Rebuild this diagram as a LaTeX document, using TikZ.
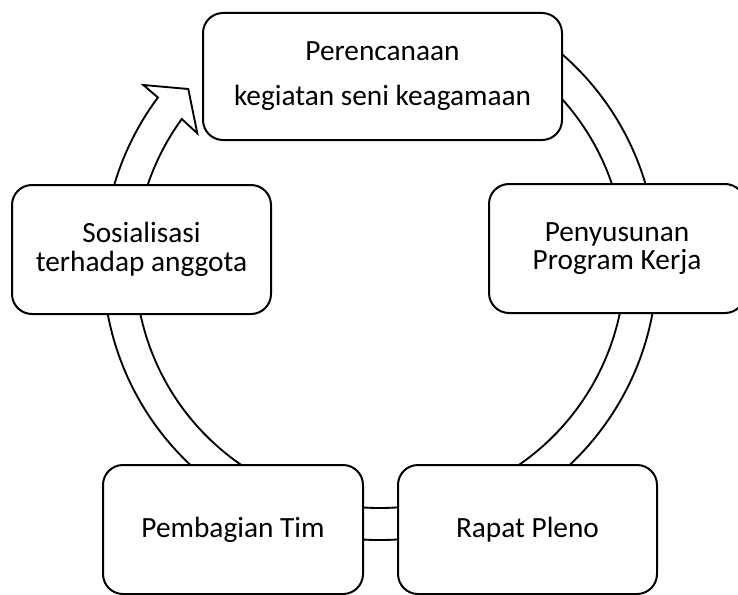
\documentclass[tikz,border=0pt]{standalone}
\usepackage{fontspec}
\setmainfont{Carlito}
\usetikzlibrary{calc}
\tikzset{%
  stepnode/.style = {shape=rectangle, rounded corners=15pt, draw, fill=white,%
                     line width=1.5pt, align=center, inner sep=0pt,%
                     font=\fontsize{22}{21.5}\selectfont},%
  ringband/.style = {draw, fill=white, line width=1.4pt, line join=miter}%
}

\begin{document}
\begin{tikzpicture}[x=0.75pt,y=0.75pt]
		\useasboundingbox (0,0) rectangle (738,594);
		\coordinate (hub) at (380,331);
		% cycle band with its arrow head
		\draw[ringband] ($(hub)+(55:277)$) arc[start angle=55, end angle=-216.7, radius=277]
			-- (143.3,509) -- (188.3,505) -- (197.3,460.7) -- ($(hub)+(-216:245)$)
			arc[start angle=-216, end angle=55, radius=245] -- cycle;
		\node[stepnode, minimum width=269.25pt, minimum height=95.25pt] (plan) at (382.5,517.5) {Perencanaan\\[12.25pt]kegiatan seni keagamaan};
		\node[stepnode, minimum width=192pt, minimum height=96.75pt] (program) at (617,345.5) {Penyusunan\\Program Kerja};
		\node[stepnode, minimum width=194.25pt, minimum height=96.75pt] (rapat) at (527.5,64.5) {Rapat Pleno};
		\node[stepnode, minimum width=195pt, minimum height=96.75pt] (tim) at (233,64.5) {Pembagian Tim};
		\node[stepnode, minimum width=194.25pt, minimum height=96.75pt] (sosial) at (141.5,344.5) {Sosialisasi\\terhadap anggota};
	\end{tikzpicture}
\end{document}
